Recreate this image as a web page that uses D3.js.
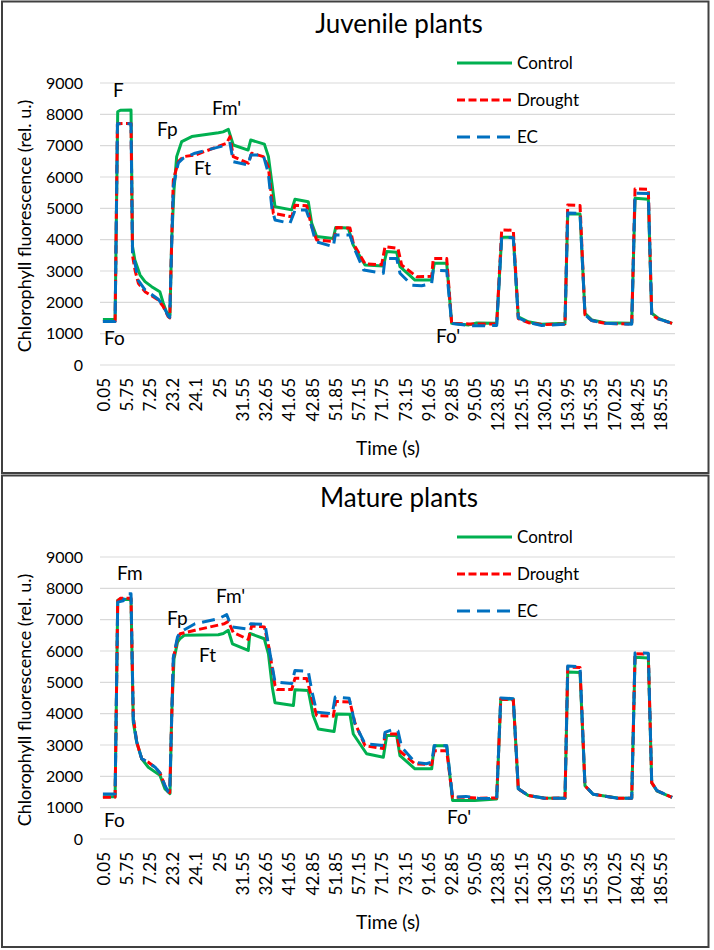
<!DOCTYPE html>
<html>
<head>
<meta charset="utf-8">
<script src="https://cdn.jsdelivr.net/npm/d3@7"></script>
<style>
  body { margin: 0; background: #fff; }
  svg text { font-family: Lato, "Noto Sans", sans-serif; fill: #000; }
</style>
</head>
<body>
<div id="chart"></div>
<script>
// x axis is a category axis: 99 categories, a label on every 4th one
const nCats = 99;
const labelStep = 4;
const timeLabels = ["0.05", "5.75", "7.25", "23.2", "24.1", "25", "31.55", "32.65", "41.65", "42.85",
  "51.85", "57.15", "71.75", "73.15", "91.65", "92.85", "95.05", "123.85", "125.15", "130.25",
  "153.95", "155.35", "170.25", "184.25", "185.55"];
const yTicks = [0, 1000, 2000, 3000, 4000, 5000, 6000, 7000, 8000, 9000];
const seriesNames = ["Control", "Drought", "EC"];

// [category index, fluorescence]
const juvControl = [[0,1450],[2.1,1450],[2.55,8080],[3.0,8130],[4.84,8140],[5.1,3780],[5.5,3350],[6.4,2870],[7.25,2660],[8.4,2500],[9.8,2340],[10.4,1970],[11.0,1670],[11.55,1600],[11.84,3990],[12.24,5590],[12.7,6650],[13.57,7130],[15.3,7290],[19.9,7410],[20.7,7440],[21.6,7520],[22.45,7020],[25.0,6860],[25.45,7180],[27.8,7050],[28.5,6650],[29.63,5050],[32.5,4950],[33.07,5290],[35.36,5210],[35.95,4520],[36.8,4100],[39.67,4040],[40.08,4390],[42.25,4370],[43.1,3830],[45.13,3190],[48.3,3160],[48.86,3620],[50.58,3600],[51.15,3140],[53.73,2710],[56.6,2710],[57.05,3250],[59.19,3250],[60.05,1330],[63,1280],[64.36,1340],[67.8,1330],[68.66,4080],[70.66,4080],[71.52,1540],[73.24,1380],[75.55,1300],[79.56,1330],[80.03,4820],[82.15,4820],[83.0,1650],[84.16,1440],[86.45,1350],[91.05,1330],[91.62,5320],[93.91,5290],[94.49,1650],[95.63,1490],[98,1330]];
const juvDrought = [[0,1390],[2.1,1390],[2.5,7700],[4.84,7710],[5.1,3500],[5.53,3030],[6.1,2610],[7.25,2340],[9.54,2075],[10.4,1860],[11.26,1540],[11.5,1500],[12.12,5900],[12.98,6490],[13.84,6650],[15.86,6700],[21.3,7075],[21.88,7290],[22.45,6650],[25.03,6440],[25.62,6760],[27.62,6650],[28.48,6330],[29.34,4840],[32.51,4730],[33.07,5100],[35.09,5080],[35.95,4410],[36.81,3990],[39.67,3940],[40.25,4390],[42.54,4370],[43.11,3880],[45.13,3230],[48.0,3200],[48.57,3775],[50.8,3720],[51.44,3190],[54.02,2820],[56.61,2830],[56.88,3400],[59.19,3400],[60.05,1330],[63,1310],[64.5,1310],[67.8,1310],[68.66,4310],[70.66,4300],[71.52,1480],[73.24,1350],[75.55,1290],[79.56,1310],[80.03,5110],[82.15,5090],[83.0,1600],[84.16,1420],[86.45,1330],[91.05,1310],[91.62,5620],[93.91,5610],[94.49,1600],[95.63,1470],[98,1330]];
const juvEC = [[0,1390],[2.1,1390],[2.5,7700],[4.84,7700],[5.1,3600],[5.53,3240],[6.1,2700],[7.25,2400],[9.54,2100],[10.4,1880],[11.26,1560],[11.5,1520],[12.12,5700],[12.98,6450],[13.84,6600],[15.86,6760],[21.3,7020],[21.88,7075],[22.45,6490],[25.03,6380],[25.45,6700],[27.62,6700],[28.48,6120],[29.1,5000],[29.63,4630],[32.2,4520],[32.9,4850],[33.07,4950],[35.0,4950],[35.8,4520],[36.6,3940],[39.67,3775],[40.0,4150],[42.54,4150],[43.4,3670],[44.9,3030],[48.28,2930],[48.57,3400],[50.58,3400],[51.15,2930],[53.17,2550],[54.88,2530],[56.6,2600],[56.88,3030],[59.19,3010],[60.05,1330],[63,1260],[64.6,1250],[67.8,1260],[68.66,4080],[70.66,4060],[71.52,1500],[73.24,1360],[75.55,1260],[79.56,1300],[80.03,4850],[82.15,4840],[83.0,1600],[84.16,1420],[86.45,1330],[91.05,1300],[91.62,5480],[93.91,5470],[94.49,1600],[95.63,1470],[98,1330]];

const matControl = [[0,1350],[2.1,1350],[2.55,7620],[3,7640],[4.84,7650],[5.23,3730],[5.82,3090],[6.68,2560],[7.82,2290],[9.83,2030],[10.69,1600],[11.55,1450],[11.84,3950],[12.24,5750],[12.85,6280],[13.3,6400],[14.0,6500],[19.87,6520],[20.73,6560],[21.59,6660],[22.3,6230],[25.03,6020],[25.3,6560],[27.79,6390],[28.5,5910],[29.2,4800],[29.63,4350],[32.8,4260],[33.07,4760],[35.36,4740],[36.2,3940],[37.1,3510],[39.8,3430],[40.25,3990],[42.54,3980],[43.11,3350],[45.4,2720],[48.28,2610],[48.86,3300],[50.58,3300],[51.15,2660],[53.73,2240],[56.61,2240],[57.05,2980],[59.19,2980],[60.2,1230],[64,1230],[67.8,1280],[68.5,4470],[70.66,4460],[71.52,1600],[73.24,1390],[76,1310],[79.56,1300],[80.03,5330],[82.15,5310],[83.0,1700],[84.4,1430],[88.6,1310],[91.05,1300],[91.62,5800],[93.91,5780],[94.49,1800],[95.4,1530],[98,1330]];
const matDrought = [[0,1330],[2.1,1330],[2.55,7600],[3,7680],[4.84,7680],[5.23,3900],[5.82,3100],[6.68,2560],[7.82,2450],[9.0,2290],[9.83,2110],[10.69,1700],[11.26,1510],[11.5,1480],[12.12,5750],[12.85,6400],[13.3,6550],[15.86,6660],[20.9,6870],[21.6,6945],[22.45,6590],[25.03,6370],[25.62,6800],[27.79,6770],[28.6,6100],[29.63,4900],[30,4770],[32.51,4770],[33.07,5130],[35.09,5120],[35.95,4500],[36.81,3940],[39.67,3920],[40.08,4390],[42.54,4370],[43.4,3700],[45.13,2980],[48.28,2890],[48.57,3350],[50.58,3350],[51.15,2800],[53.73,2400],[56.61,2380],[57.05,2820],[59.19,2820],[60.2,1330],[62.5,1330],[64.6,1300],[67.8,1310],[68.5,4460],[70.66,4440],[71.52,1600],[73.24,1390],[76,1300],[79.56,1310],[80.03,5490],[82.15,5470],[83.0,1700],[84.4,1430],[88.6,1300],[91.05,1300],[91.62,5910],[93.91,5900],[94.49,1800],[95.4,1540],[98,1330]];
const matEC = [[0,1440],[2.1,1440],[2.55,7560],[3.5,7600],[4.0,7830],[4.84,7830],[5.23,3800],[5.82,3100],[6.68,2560],[7.82,2450],[9.0,2290],[9.83,2110],[10.69,1700],[11.26,1510],[11.5,1480],[12.12,5800],[12.85,6450],[13.3,6600],[15.86,6870],[19.87,7030],[21.31,7160],[22.16,6770],[25.03,6700],[25.45,6870],[27.9,6850],[28.5,6200],[29.63,5010],[32.5,4960],[33.07,5380],[35.36,5350],[36.0,4700],[36.81,4050],[39.5,4000],[40.0,4530],[42.4,4490],[43.4,3670],[45.13,3040],[48.28,2980],[48.57,3400],[50.0,3500],[50.8,3450],[51.44,2930],[53.73,2450],[55.7,2400],[56.61,2450],[57.05,2980],[59.19,2980],[60.2,1330],[62.5,1360],[64.6,1300],[67.8,1290],[68.5,4500],[70.66,4480],[71.52,1600],[73.24,1390],[76,1300],[79.56,1300],[80.03,5520],[82.15,5500],[83.0,1700],[84.4,1430],[88.6,1300],[91.05,1300],[91.62,5940],[93.91,5930],[94.49,1800],[95.4,1540],[98,1330]];

// point labels: [text, category index (left edge), value (baseline)]
const juvNotes = [["F",1.74,8550],["Fm'",18.78,7990],["Fp",9.31,7300],["Ft",15.68,6070],["Fo",0.19,650],["Fo'",57.35,700]];
const matNotes = [["Fm",2.43,8265],["Fm'",19.47,7520],["Fp",11.04,6830],["Ft",16.55,5655],["Fo",0.19,383],["Fo'",59.25,492]];

const W = 714, H = 950;
const colors = ["#00B050", "#FF0000", "#0070C0"];
const dashes = [null, "8,3.5", "13,7"];

const svg = d3.select("#chart").append("svg")
  .attr("width", W)
  .attr("height", H);

svg.append("rect").attr("width", W).attr("height", H).attr("fill", "#fff");

function drawPanel(top, title, series, notes) {
  const g = svg.append("g").attr("transform", `translate(0, ${top})`);

  // frame
  g.append("rect")
    .attr("x", 2).attr("y", 1.5)
    .attr("width", 706.5).attr("height", 471.5)
    .attr("fill", "none")
    .attr("stroke", "#404040")
    .attr("stroke-width", 2);

  const x = d3.scaleLinear().domain([-0.5, nCats - 0.5]).range([100, 675]);
  const y = d3.scaleLinear().domain([0, 9000]).range([365, 83]);

  // gridlines
  g.append("g").selectAll("line")
    .data(yTicks)
    .join("line")
    .attr("x1", 100).attr("x2", 675)
    .attr("y1", d => y(d)).attr("y2", d => y(d))
    .attr("stroke", "#d9d9d9")
    .attr("stroke-width", 1.2);

  // y axis
  const yAxis = g.append("g")
    .attr("transform", "translate(100, 0)")
    .call(d3.axisLeft(y).tickValues(yTicks).tickFormat(d3.format("d")).tickSize(0).tickPadding(17));
  yAxis.select(".domain").remove();
  yAxis.selectAll("text").style("font-size", "16px").attr("font-family", "Lato");

  // x axis, rotated labels
  const xAxis = g.append("g")
    .attr("transform", "translate(0, 365)")
    .call(d3.axisBottom(x)
      .tickValues(d3.range(0, nCats, labelStep))
      .tickFormat((d, i) => timeLabels[i])
      .tickSize(0));
  xAxis.select(".domain").remove();
  xAxis.selectAll("text")
    .attr("transform", "rotate(-90)")
    .attr("x", -13)
    .attr("y", 0)
    .attr("dy", "0.36em")
    .attr("text-anchor", "end")
    .attr("font-family", "Lato")
    .style("font-size", "17px");

  // lines
  const line = d3.line().x(d => x(d[0])).y(d => y(d[1]));
  series.forEach((s, i) => {
    g.append("path")
      .datum(s)
      .attr("fill", "none")
      .attr("stroke", colors[i])
      .attr("stroke-width", 3)
      .attr("stroke-dasharray", dashes[i])
      .attr("stroke-linejoin", "round")
      .attr("d", line);
  });

  // point labels
  g.append("g").selectAll("text")
    .data(notes)
    .join("text")
    .attr("x", d => x(d[1]))
    .attr("y", d => y(d[2]))
    .style("font-size", "19px")
    .text(d => d[0]);

  // title
  g.append("text")
    .attr("x", 399)
    .attr("y", 33)
    .attr("text-anchor", "middle")
    .style("font-size", "26px")
    .text(title);

  // axis titles
  g.append("text")
    .attr("transform", `translate(31, ${(83 + 365) / 2 + 2}) rotate(-90)`)
    .attr("text-anchor", "middle")
    .style("font-size", "18px")
    .text("Chlorophyll fluorescence (rel. u.)");

  g.append("text")
    .attr("x", 388)
    .attr("y", 455)
    .attr("text-anchor", "middle")
    .style("font-size", "19px")
    .text("Time (s)");

  // legend
  const leg = g.append("g").selectAll("g")
    .data(seriesNames)
    .join("g")
    .attr("transform", (d, i) => `translate(457, ${63 + i * 37})`);
  leg.append("line")
    .attr("x1", 0).attr("x2", 55)
    .attr("stroke", (d, i) => colors[i])
    .attr("stroke-width", 3)
    .attr("stroke-dasharray", (d, i) => dashes[i]);
  leg.append("text")
    .attr("x", 60)
    .attr("dy", "0.35em")
    .style("font-size", "17px")
    .text(d => d);
}

drawPanel(0, "Juvenile plants", [juvControl, juvDrought, juvEC], juvNotes);
drawPanel(474, "Mature plants", [matControl, matDrought, matEC], matNotes);
</script>
</body>
</html>
